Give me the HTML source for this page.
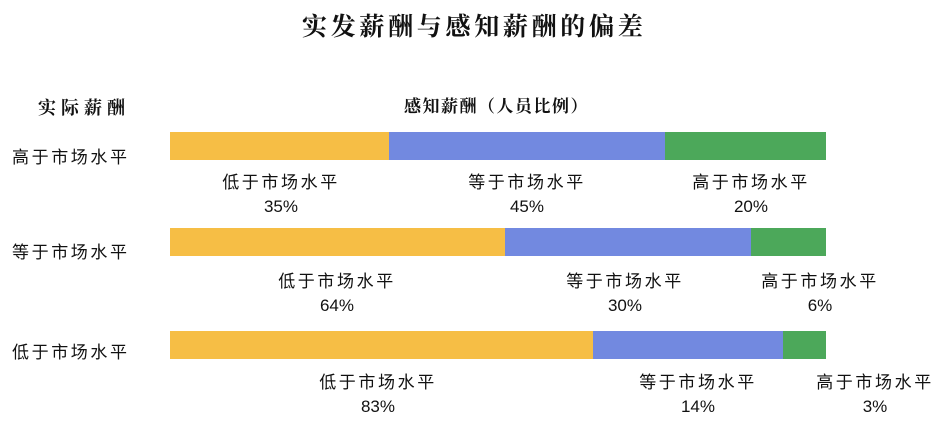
<!DOCTYPE html>
<html><head><meta charset="utf-8"><style>
body{margin:0;width:950px;height:435px;background:#fff;position:relative;overflow:hidden;font-family:"Liberation Sans","Noto Sans CJK SC",sans-serif;color:#111}
.a{position:absolute;white-space:nowrap}
.t{font-family:"Liberation Serif","Noto Serif CJK SC",serif;font-weight:bold;font-size:25px;left:302px;top:7px;letter-spacing:3.7px}
.b{position:absolute;height:28px}
.y{background:#F6BE45}.u{background:#7289E0}.g{background:#4CA85A}
.l{font-size:17px;text-align:center;line-height:24px;transform:translateX(-50%);letter-spacing:2.6px}
.l span{letter-spacing:0}
.r{font-size:17px;left:12px;letter-spacing:2.6px}
</style></head><body>
<div class="a t">实发薪酬与感知薪酬的偏差</div>
<div class="a" style="left:38px;top:94px;font-weight:bold;font-size:18px;letter-spacing:5px;font-family:'Liberation Serif','Noto Serif CJK SC',serif">实际薪酬</div>
<div class="a" style="left:404px;top:92px;font-weight:bold;font-size:17px;letter-spacing:1.5px;font-family:'Liberation Serif','Noto Serif CJK SC',serif">感知薪酬（人员比例）</div>
<div class="a r" style="top:143px">高于市场水平</div>
<div class="a r" style="top:238px">等于市场水平</div>
<div class="a r" style="top:338px">低于市场水平</div>

<div class="b y" style="left:170px;top:132px;width:219px"></div>
<div class="b u" style="left:389px;top:132px;width:276px"></div>
<div class="b g" style="left:665px;top:132px;width:161px"></div>
<div class="b y" style="left:170px;top:228px;width:335px"></div>
<div class="b u" style="left:505px;top:228px;width:246px"></div>
<div class="b g" style="left:751px;top:228px;width:75px"></div>
<div class="b y" style="left:170px;top:331px;width:423px"></div>
<div class="b u" style="left:593px;top:331px;width:190px"></div>
<div class="b g" style="left:783px;top:331px;width:43px"></div>

<div class="a l" style="left:281px;top:171px">低于市场水平<br><span>35%</span></div>
<div class="a l" style="left:527px;top:171px">等于市场水平<br><span>45%</span></div>
<div class="a l" style="left:751px;top:171px">高于市场水平<br><span>20%</span></div>
<div class="a l" style="left:337px;top:270px">低于市场水平<br><span>64%</span></div>
<div class="a l" style="left:625px;top:270px">等于市场水平<br><span>30%</span></div>
<div class="a l" style="left:820px;top:270px">高于市场水平<br><span>6%</span></div>
<div class="a l" style="left:378px;top:371px">低于市场水平<br><span>83%</span></div>
<div class="a l" style="left:698px;top:371px">等于市场水平<br><span>14%</span></div>
<div class="a l" style="left:875px;top:371px">高于市场水平<br><span>3%</span></div>
</body></html>
